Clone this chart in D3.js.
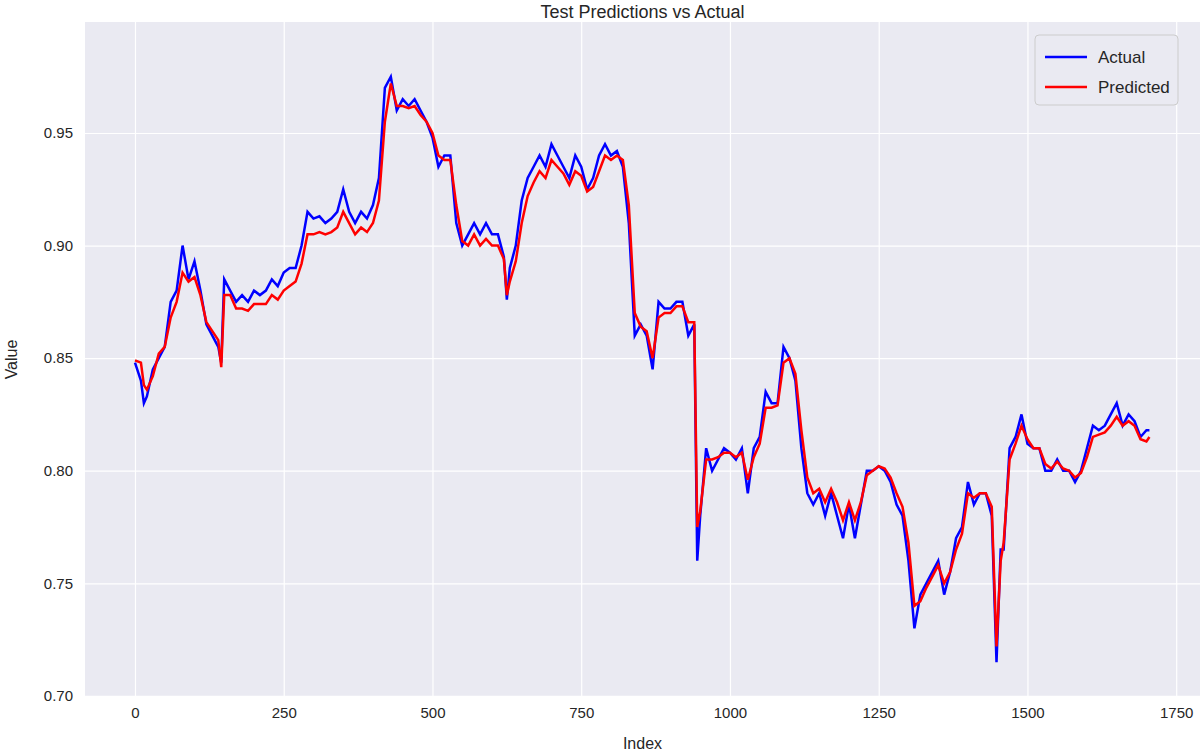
<!DOCTYPE html>
<html><head><meta charset="utf-8">
<script src="https://cdn.jsdelivr.net/npm/d3@7"></script>
<style>body{margin:0;background:#fff}text{font-family:"Liberation Sans",Arial,sans-serif}</style>
</head><body>
<svg width="1200" height="756"></svg>
<script>
const indices = [0,10,15,20,30,40,50,60,70,80,90,100,110,120,130,140,145,150,160,170,180,190,200,210,220,230,240,250,260,270,280,290,300,310,320,330,340,350,360,370,380,390,400,410,420,430,440,450,460,470,480,490,500,510,520,530,540,550,560,570,580,590,600,610,620,625,630,640,650,660,670,680,690,700,710,720,730,740,750,760,770,780,790,800,810,820,830,840,850,860,870,880,890,900,910,920,930,940,945,950,960,970,980,990,1000,1010,1020,1030,1040,1050,1060,1070,1080,1090,1100,1110,1120,1130,1140,1150,1160,1170,1180,1190,1200,1210,1220,1230,1240,1250,1260,1270,1280,1290,1300,1310,1320,1330,1340,1350,1360,1370,1380,1390,1400,1410,1420,1430,1440,1448,1455,1460,1470,1480,1490,1500,1510,1520,1530,1540,1550,1560,1570,1580,1590,1600,1610,1620,1630,1640,1650,1660,1670,1680,1690,1700,1705];
const actual = [0.848,0.840,0.830,0.833,0.845,0.850,0.855,0.875,0.880,0.900,0.885,0.893,0.880,0.865,0.860,0.855,0.848,0.885,0.880,0.875,0.878,0.875,0.880,0.878,0.880,0.885,0.882,0.888,0.890,0.890,0.900,0.915,0.912,0.913,0.910,0.912,0.915,0.925,0.915,0.910,0.915,0.912,0.918,0.930,0.970,0.975,0.960,0.965,0.962,0.965,0.960,0.955,0.948,0.935,0.940,0.940,0.910,0.900,0.905,0.910,0.905,0.910,0.905,0.905,0.895,0.876,0.890,0.900,0.920,0.930,0.935,0.940,0.935,0.945,0.940,0.935,0.930,0.940,0.935,0.925,0.930,0.940,0.945,0.940,0.942,0.935,0.910,0.860,0.865,0.860,0.845,0.875,0.872,0.872,0.875,0.875,0.860,0.865,0.760,0.780,0.810,0.800,0.805,0.810,0.808,0.805,0.810,0.790,0.810,0.815,0.835,0.830,0.830,0.855,0.850,0.840,0.810,0.790,0.785,0.790,0.780,0.790,0.780,0.770,0.785,0.770,0.785,0.800,0.800,0.802,0.800,0.795,0.785,0.780,0.760,0.730,0.745,0.750,0.755,0.760,0.745,0.755,0.770,0.775,0.795,0.785,0.790,0.790,0.780,0.715,0.765,0.765,0.810,0.815,0.825,0.812,0.810,0.810,0.800,0.800,0.805,0.800,0.800,0.795,0.800,0.810,0.820,0.818,0.820,0.825,0.830,0.820,0.825,0.822,0.815,0.818,0.818];
const predicted = [0.849,0.848,0.838,0.836,0.842,0.852,0.855,0.868,0.875,0.888,0.884,0.886,0.878,0.866,0.862,0.858,0.846,0.878,0.878,0.872,0.872,0.871,0.874,0.874,0.874,0.878,0.876,0.880,0.882,0.884,0.892,0.905,0.905,0.906,0.905,0.906,0.908,0.915,0.910,0.905,0.908,0.906,0.910,0.920,0.955,0.972,0.962,0.962,0.961,0.962,0.958,0.955,0.950,0.940,0.938,0.938,0.918,0.902,0.900,0.905,0.900,0.903,0.900,0.900,0.894,0.878,0.884,0.893,0.910,0.922,0.928,0.933,0.930,0.938,0.935,0.932,0.927,0.933,0.931,0.924,0.926,0.933,0.940,0.938,0.940,0.938,0.918,0.870,0.864,0.862,0.850,0.868,0.870,0.870,0.873,0.873,0.866,0.866,0.775,0.782,0.805,0.805,0.806,0.808,0.808,0.806,0.808,0.796,0.806,0.812,0.828,0.828,0.829,0.848,0.850,0.843,0.818,0.797,0.790,0.792,0.786,0.792,0.786,0.778,0.786,0.778,0.786,0.798,0.800,0.802,0.801,0.797,0.790,0.784,0.768,0.740,0.742,0.748,0.753,0.758,0.750,0.755,0.765,0.772,0.790,0.788,0.790,0.790,0.784,0.722,0.760,0.768,0.805,0.812,0.820,0.814,0.810,0.810,0.803,0.801,0.804,0.801,0.800,0.797,0.799,0.806,0.815,0.816,0.817,0.820,0.824,0.820,0.822,0.820,0.814,0.813,0.815];
const xTicks = [0,250,500,750,1000,1250,1500,1750];
const yTicks = [0.70,0.75,0.80,0.85,0.90,0.95];

const svg = d3.select('svg');
const margin = {top: 22, right: 0, bottom: 59, left: 85};
const width = 1200, height = 756;
const innerWidth = width - margin.left - margin.right;
const innerHeight = height - margin.top - margin.bottom;

const xScale = d3.scaleLinear().domain([-84, 1790]).range([0, innerWidth]);
const yScale = d3.scaleLinear().domain([0.6995, 0.9993]).range([innerHeight, 0]);

const g = svg.append('g').attr('transform', `translate(${margin.left},${margin.top})`);
g.append('rect').attr('width', innerWidth).attr('height', innerHeight).attr('fill', '#eaeaf2');

// grid
const xAxisG = g.append('g').attr('transform', `translate(0,${innerHeight})`)
  .call(d3.axisBottom(xScale).tickValues(xTicks).tickSize(-innerHeight).tickPadding(10).tickFormat(d3.format('d')));
const yAxisG = g.append('g')
  .call(d3.axisLeft(yScale).tickValues(yTicks).tickSize(-innerWidth).tickPadding(12).tickFormat(d3.format('.2f')));
[xAxisG, yAxisG].forEach(a => {
  a.selectAll('.domain').remove();
  a.selectAll('line').attr('stroke', '#fff').attr('stroke-width', 1.2);
  a.selectAll('text').attr('font-size', 15).attr('fill', '#262626');
});

const line = d3.line().x((d, i) => xScale(indices[i])).y(d => yScale(d));
g.append('path').datum(actual).attr('d', line).attr('fill', 'none').attr('stroke', '#0000ff').attr('stroke-width', 2.5);
g.append('path').datum(predicted).attr('d', line).attr('fill', 'none').attr('stroke', '#ff0000').attr('stroke-width', 2.5);

svg.append('text').text('Test Predictions vs Actual').attr('x', margin.left + innerWidth / 2).attr('y', 18)
  .attr('text-anchor', 'middle').attr('font-size', 18).attr('fill', '#262626');
svg.append('text').text('Index').attr('x', margin.left + innerWidth / 2).attr('y', 749)
  .attr('text-anchor', 'middle').attr('font-size', 16).attr('fill', '#262626');
svg.append('text').text('Value').attr('transform', `translate(17,${margin.top + innerHeight / 2}) rotate(-90)`)
  .attr('text-anchor', 'middle').attr('font-size', 16).attr('fill', '#262626');

// legend
const lg = svg.append('g').attr('transform', 'translate(1035,35)');
lg.append('rect').attr('width', 143).attr('height', 70).attr('rx', 4).attr('fill', '#eaeaf2').attr('stroke', '#ccc');
[['Actual', '#0000ff'], ['Predicted', '#ff0000']].forEach(([t, c], i) => {
  lg.append('line').attr('x1', 10).attr('x2', 52).attr('y1', 22 + i * 30).attr('y2', 22 + i * 30).attr('stroke', c).attr('stroke-width', 2.5);
  lg.append('text').text(t).attr('x', 63).attr('y', 28 + i * 30).attr('font-size', 17).attr('fill', '#262626');
});
</script>
</body></html>
